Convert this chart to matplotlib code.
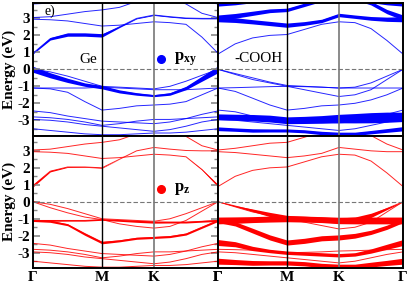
import matplotlib
matplotlib.use('Agg')
import matplotlib.pyplot as plt
import numpy as np

plt.rcParams['font.family'] = 'serif'
plt.rcParams['font.serif'] = ['Liberation Serif', 'DejaVu Serif']
plt.rcParams['font.weight'] = 'bold'
plt.rcParams['axes.unicode_minus'] = False
plt.rcParams['mathtext.fontset'] = 'custom'
plt.rcParams['mathtext.bf'] = 'Liberation Serif:bold'
plt.rcParams['mathtext.rm'] = 'Liberation Serif'

# k-path (Gamma - M - K - Gamma), fractional distance
k = [0.0, 0.093, 0.187, 0.280, 0.373, 0.467, 0.560, 0.654, 0.740, 0.827, 0.913, 1.0]
k_ticks = [0.0, 0.373, 0.654, 1.0]
k_labels = ['Γ', 'M', 'K', 'Γ']

# band energies (eV) for pristine Ge
ge_bands = [
    [0.95, 1.8, 2.05, 2.05, 2.0, 2.5, 3.0, 3.2, 3.1, 3.02, 3.0, 3.0],
    [2.95, 2.92, 2.85, 2.7, 2.55, 2.6, 2.7, 2.8, 2.75, 2.65, 1.9, 0.95],
    [3.05, 3.1, 3.25, 3.4, 3.5, 3.65, 4.0, 4.2, 4.2, 3.85, 3.3, 3.05],
    [3.85, 3.9, 4.0, 4.1, 4.2, 4.3, 4.4, 4.4, 4.4, 4.3, 4.0, 3.85],
    [0.0, -0.35, -0.65, -0.9, -1.05, -1.3, -1.45, -1.55, -1.45, -1.1, -0.55, 0.0],
    [0.0, -0.15, -0.4, -0.7, -1.0, -1.05, -1.1, -1.15, -1.0, -0.7, -0.35, 0.0],
    [-1.1, -1.15, -1.35, -1.9, -2.4, -2.3, -2.15, -2.1, -2.05, -1.9, -1.5, -1.1],
    [-1.1, -1.1, -1.1, -1.1, -1.05, -1.1, -1.15, -1.2, -1.2, -1.2, -1.15, -1.1],
    [-2.45, -2.55, -2.75, -2.9, -3.05, -3.1, -3.15, -3.2, -3.1, -2.9, -2.65, -2.45],
    [-2.8, -2.85, -2.95, -3.1, -3.3, -3.2, -3.05, -2.95, -2.95, -2.9, -2.85, -2.8],
    [-2.95, -3.0, -3.1, -3.25, -3.35, -3.45, -3.55, -3.65, -3.55, -3.35, -3.1, -2.95],
    [-3.5, -3.6, -3.7, -3.8, -3.85, -3.85, -3.8, -3.75, -3.75, -3.7, -3.6, -3.5],
]
# fat-band widths (eV); 0 = thin band only
ge_pxy = [
    [0.08, 0.15, 0.2, 0.2, 0.2, 0.08, 0.05, 0.05, 0.05, 0.05, 0.05, 0.05],
    0, 0, 0,
    [0.35, 0.3, 0.25, 0.2, 0.2, 0.18, 0.15, 0.12, 0.15, 0.2, 0.3, 0.4],
    0, 0, 0, 0, 0, 0, 0,
]
ge_pz = [
    [0.15, 0.08, 0.05, 0.04, 0.04, 0.0, 0.0, 0.0, 0.0, 0.0, 0.0, 0.0],
    [0.0, 0.0, 0.0, 0.0, 0.0, 0.0, 0.0, 0.0, 0.0, 0.0, 0.04, 0.15],
    0, 0, 0, 0,
    [0.12, 0.12, 0.12, 0.15, 0.15, 0.12, 0.12, 0.12, 0.12, 0.12, 0.12, 0.12],
    [0.12, 0.1, 0.08, 0.08, 0.08, 0.1, 0.12, 0.12, 0.1, 0.1, 0.1, 0.12],
    0, 0, 0, 0,
]

# band energies (eV) for -COOH functionalised Ge
cooh_bands = [
    [0.9, 1.5, 1.85, 2.0, 2.05, 2.35, 2.65, 2.8, 2.75, 2.4, 1.7, 0.9],
    [2.95, 2.9, 2.8, 2.7, 2.6, 2.7, 2.85, 3.2, 3.1, 3.0, 2.95, 2.95],
    [3.05, 3.15, 3.3, 3.45, 3.5, 3.8, 4.1, 4.2, 4.2, 3.9, 3.4, 3.05],
    [3.85, 3.9, 4.0, 4.1, 4.2, 4.3, 4.3, 4.3, 4.2, 4.0, 3.9, 3.85],
    [0.0, -0.25, -0.5, -0.75, -0.95, -1.0, -1.05, -1.1, -1.05, -0.8, -0.4, 0.0],
    [0.0, -0.3, -0.6, -0.8, -1.0, -1.2, -1.4, -1.6, -1.5, -1.2, -0.6, 0.0],
    [-1.1, -1.08, -1.05, -1.02, -1.0, -1.02, -1.05, -1.1, -1.1, -1.1, -1.1, -1.1],
    [-1.1, -1.3, -1.7, -2.1, -2.4, -2.3, -2.15, -2.1, -2.0, -1.8, -1.5, -1.1],
    [-2.4, -2.5, -2.75, -2.9, -3.0, -3.05, -3.1, -3.15, -3.1, -2.9, -2.65, -2.4],
    [-2.8, -2.82, -2.85, -2.9, -3.0, -2.98, -2.95, -2.9, -2.88, -2.85, -2.82, -2.8],
    [-2.95, -3.0, -3.1, -3.2, -3.3, -3.4, -3.5, -3.6, -3.5, -3.3, -3.1, -2.95],
    [-3.5, -3.55, -3.6, -3.6, -3.6, -3.65, -3.75, -3.8, -3.8, -3.7, -3.6, -3.5],
]
cooh_pxy = [
    0,
    [0.3, 0.28, 0.25, 0.25, 0.25, 0.22, 0.2, 0.2, 0.2, 0.22, 0.25, 0.3],
    [0.3, 0.28, 0.25, 0.22, 0.2, 0.2, 0.2, 0.2, 0.2, 0.22, 0.25, 0.3],
    [0.25, 0.2, 0.15, 0.1, 0.1, 0.1, 0.1, 0.1, 0.1, 0.15, 0.2, 0.25],
    0, 0, 0, 0, 0,
    [0.35, 0.35, 0.38, 0.4, 0.4, 0.42, 0.45, 0.5, 0.55, 0.6, 0.6, 0.55],
    0,
    [0.22, 0.2, 0.2, 0.18, 0.18, 0.18, 0.2, 0.2, 0.2, 0.2, 0.22, 0.25],
]
cooh_pz = [
    0, 0, 0, 0,
    [0.0, 0.05, 0.15, 0.25, 0.3, 0.3, 0.3, 0.3, 0.3, 0.25, 0.12, 0.0],
    0,
    [0.4, 0.38, 0.35, 0.35, 0.35, 0.35, 0.35, 0.38, 0.4, 0.4, 0.4, 0.4],
    [0.25, 0.25, 0.28, 0.3, 0.3, 0.3, 0.3, 0.3, 0.28, 0.25, 0.25, 0.25],
    [0.35, 0.3, 0.25, 0.2, 0.2, 0.2, 0.2, 0.2, 0.2, 0.25, 0.3, 0.35],
    0, 0,
    [0.35, 0.3, 0.28, 0.25, 0.25, 0.25, 0.25, 0.25, 0.25, 0.28, 0.3, 0.35],
]

BLUE = '#0000ff'
RED = '#ff0000'


def draw_panel(ax, bands, widths, color):
    kk = np.array(k)
    for e, w in zip(bands, widths):
        e = np.array(e)
        w = np.broadcast_to(np.array(w, dtype=float), e.shape)
        if w.max() > 0:
            ax.fill_between(kk, e - w / 2, e + w / 2, color=color, lw=0)
        ax.plot(kk, e, color=color, lw=0.7, alpha=0.85)
    ax.axhline(0, color='#777777', ls='--', lw=0.8, dashes=(4, 2))
    ax.axvline(k_ticks[1], color='black', lw=1.0)
    ax.axvline(k_ticks[2], color='#777777', lw=1.2)
    ax.set_xlim(0, 1)
    ax.set_ylim(-3.9, 3.9)
    ax.set_xticks(k_ticks)
    ax.tick_params(axis='x', length=0, labelsize=11, pad=2)
    for s in ax.spines.values():
        s.set_linewidth(1.4)


fig = plt.figure(figsize=(4.09, 2.83), dpi=100)
W = 185 / 409
H = 0.468
ax_tl = fig.add_axes([33 / 409, 0.521, W, H])
ax_tr = fig.add_axes([218 / 409, 0.521, W, H])
ax_bl = fig.add_axes([33 / 409, 0.053, W, H])
ax_br = fig.add_axes([218 / 409, 0.053, W, H])

draw_panel(ax_tl, ge_bands, ge_pxy, BLUE)
draw_panel(ax_tr, cooh_bands, cooh_pxy, BLUE)
draw_panel(ax_bl, ge_bands, ge_pz, RED)
draw_panel(ax_br, cooh_bands, cooh_pz, RED)

for ax in (ax_tl, ax_tr):
    ax.set_xticklabels([])
for ax in (ax_bl, ax_br):
    ax.set_xticklabels(k_labels)

for ax in (ax_tl, ax_bl):
    ax.set_yticks([-3, -2, -1, 0, 1, 2, 3])
    ax.set_yticks(np.arange(-3.5, 3.6, 0.5), minor=True)
    ax.tick_params(axis='y', which='both', direction='in', left=True, right=True,
                   color='#888888', labelsize=11, pad=2)
    ax.tick_params(axis='y', which='major', length=5, width=1.2)
    ax.tick_params(axis='y', which='minor', length=3, width=1.0)
    ax.set_ylabel('Energy (eV)', fontsize=11, fontweight='bold', labelpad=1)
for ax in (ax_tr, ax_br):
    ax.set_yticks([])

ax_tl.text(0.06, 3.2, 'e)', fontsize=10, fontweight='normal')
ax_tl.text(0.3, 0.6, 'Ge', fontsize=11, fontweight='normal', ha='center', va='center')
ax_tr.text(0.22, 0.65, '-COOH', fontsize=11, fontweight='normal', ha='center', va='center')

ax_tl.plot([0.69], [0.6], 'o', color=BLUE, ms=5.5)
ax_tl.text(0.76, 0.6, r'$\mathbf{p_{xy}}$', fontsize=12, va='center')
ax_bl.plot([0.69], [0.75], 'o', color=RED, ms=5.5)
ax_bl.text(0.76, 0.75, r'$\mathbf{p_{z}}$', fontsize=12, va='center')

fig.savefig('out.png', dpi=100)
